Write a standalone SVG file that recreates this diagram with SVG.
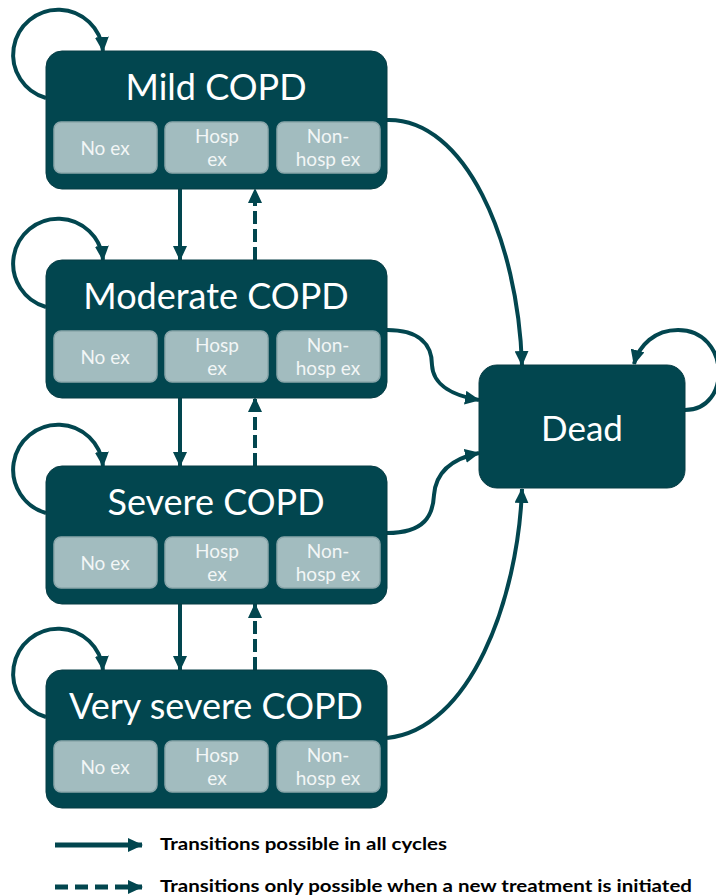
<svg xmlns="http://www.w3.org/2000/svg" width="716" height="895" viewBox="0 0 716 895">
<style>
.box{fill:#02464F;stroke:#063C44;stroke-width:1}
.sub{fill:#A2BCBF;stroke:#8AA6AA;stroke-width:1.5}
.title{font-family:Lato,"Open Sans",sans-serif;font-size:36px;fill:#FFFFFF;text-anchor:middle}
.st{font-family:Lato,"Open Sans",sans-serif;font-size:19px;fill:#F2F6F6;text-anchor:middle}
.c{fill:none;stroke:#02464F;stroke-width:4}
.d{stroke-dasharray:13 5}
.leg{font-family:Lato,"Liberation Sans",sans-serif;font-weight:bold;font-size:17px;fill:#000}
</style>
<defs>
<marker id="ah" markerUnits="userSpaceOnUse" markerWidth="15" markerHeight="14" refX="14" refY="7" orient="auto">
<path d="M0,0 L15,7 L0,14 z" fill="#02464F"/>
</marker>
</defs>

<g id="connectors">
<!-- self loops -->
<path class="c" d="M46,98 A45,45 0 1 1 103,51" marker-end="url(#ah)"/>
<path class="c" d="M46,307 A45,45 0 1 1 103,260" marker-end="url(#ah)"/>
<path class="c" d="M46,513 A45,45 0 1 1 103,466" marker-end="url(#ah)"/>
<path class="c" d="M46,717 A45,45 0 1 1 103,670" marker-end="url(#ah)"/>
<path class="c" d="M685,410 C732,410 730,330 678,330 C655,330 639,345 634,364" marker-end="url(#ah)"/>
<!-- vertical transitions -->
<path class="c" d="M180,189 L180,260" marker-end="url(#ah)"/>
<path class="c d" d="M255,260 L255,189" marker-end="url(#ah)"/>
<path class="c" d="M180,398 L180,466" marker-end="url(#ah)"/>
<path class="c d" d="M255,466 L255,398" marker-end="url(#ah)"/>
<path class="c" d="M180,604 L180,670" marker-end="url(#ah)"/>
<path class="c d" d="M255,670 L255,604" marker-end="url(#ah)"/>
<!-- to Dead -->
<path class="c" d="M387,120 C465,118 518,240 522,365" marker-end="url(#ah)"/>
<path class="c" d="M387,330 C420,330 432,345 432,365 C433,386 455,396 479,400" marker-end="url(#ah)"/>
<path class="c" d="M387,533 C425,533 433,515 434,495 C436,470 455,458 479,453" marker-end="url(#ah)"/>
<path class="c" d="M387,738 C470,730 518,600 522,489" marker-end="url(#ah)"/>
<!-- legend -->
<path class="c" d="M55,845 L142,845" style="stroke-width:5" marker-end="url(#ah)"/>
<path class="c" d="M55,887 L142,887" style="stroke-width:5;stroke-dasharray:13 7" marker-end="url(#ah)"/>
</g>

<g id="mild">
<rect class="box" x="46" y="51" width="341" height="138" rx="16"/>
<text class="title" x="216" y="100">Mild COPD</text>
<rect class="sub" x="54" y="122" width="103" height="51" rx="7"/>
<rect class="sub" x="165" y="122" width="103" height="51" rx="7"/>
<rect class="sub" x="277" y="122" width="103" height="51" rx="7"/>
<text class="st" x="105" y="155">No ex</text>
<text class="st" x="217" y="143">Hosp</text>
<text class="st" x="217" y="166">ex</text>
<text class="st" x="328" y="143">Non-</text>
<text class="st" x="328" y="166">hosp ex</text>
</g>

<g id="moderate">
<rect class="box" x="46" y="260" width="341" height="138" rx="16"/>
<text class="title" x="216" y="309">Moderate COPD</text>
<rect class="sub" x="54" y="331" width="103" height="51" rx="7"/>
<rect class="sub" x="165" y="331" width="103" height="51" rx="7"/>
<rect class="sub" x="277" y="331" width="103" height="51" rx="7"/>
<text class="st" x="105" y="364">No ex</text>
<text class="st" x="217" y="352">Hosp</text>
<text class="st" x="217" y="375">ex</text>
<text class="st" x="328" y="352">Non-</text>
<text class="st" x="328" y="375">hosp ex</text>
</g>

<g id="severe">
<rect class="box" x="46" y="466" width="341" height="138" rx="16"/>
<text class="title" x="216" y="515">Severe COPD</text>
<rect class="sub" x="54" y="537" width="103" height="51" rx="7"/>
<rect class="sub" x="165" y="537" width="103" height="51" rx="7"/>
<rect class="sub" x="277" y="537" width="103" height="51" rx="7"/>
<text class="st" x="105" y="570">No ex</text>
<text class="st" x="217" y="558">Hosp</text>
<text class="st" x="217" y="581">ex</text>
<text class="st" x="328" y="558">Non-</text>
<text class="st" x="328" y="581">hosp ex</text>
</g>

<g id="very-severe">
<rect class="box" x="46" y="670" width="341" height="138" rx="16"/>
<text class="title" x="216" y="719">Very severe COPD</text>
<rect class="sub" x="54" y="741" width="103" height="51" rx="7"/>
<rect class="sub" x="165" y="741" width="103" height="51" rx="7"/>
<rect class="sub" x="277" y="741" width="103" height="51" rx="7"/>
<text class="st" x="105" y="774">No ex</text>
<text class="st" x="217" y="762">Hosp</text>
<text class="st" x="217" y="785">ex</text>
<text class="st" x="328" y="762">Non-</text>
<text class="st" x="328" y="785">hosp ex</text>
</g>

<g id="dead">
<rect class="box" x="479" y="365" width="206" height="123" rx="18"/>
<text class="title" x="582" y="441" style="font-size:35px">Dead</text>
</g>

<g id="legend">
<text class="leg" x="160" y="850" textLength="287" lengthAdjust="spacingAndGlyphs">Transitions possible in all cycles</text>
<text class="leg" x="160" y="892" textLength="532" lengthAdjust="spacingAndGlyphs">Transitions only possible when a new treatment is initiated</text>
</g>
</svg>
